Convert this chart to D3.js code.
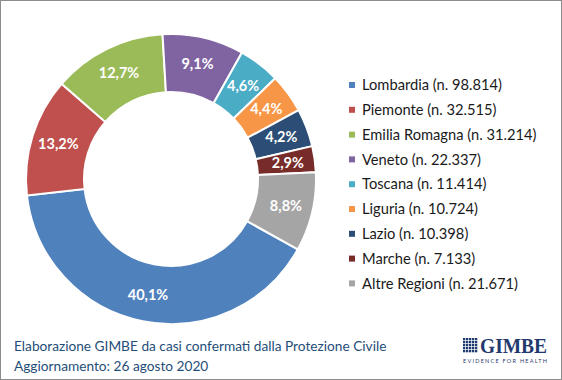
<!DOCTYPE html>
<html>
<head>
<meta charset="utf-8">
<script src="https://cdn.jsdelivr.net/npm/d3@7"></script>
<style>
	body { margin: 0; background: #fff; }
	svg { display: block; font-family: Lato, "Open Sans", sans-serif; }
</style>
</head>
<body>
<svg id="chart" width="562" height="380"></svg>
<script>
	// Data
	var regions = ['Lombardia', 'Piemonte', 'Emilia Romagna', 'Veneto', 'Toscana', 'Liguria', 'Lazio', 'Marche', 'Altre Regioni'];
	var cases = [98814, 32515, 31214, 22337, 11414, 10724, 10398, 7133, 21671];
	var colors = ['#4f81bd', '#c0504d', '#9bbb59', '#8064a2', '#4bacc6', '#f79646', '#2c4d75', '#772c2a', '#a5a5a5'];
	var footer = ['Elaborazione GIMBE da casi confermati dalla Protezione Civile', 'Aggiornamento: 26 agosto 2020'];

	var svg = d3.select('#chart'),
		width = 562,
		height = 380;

	// frame
	svg.append('rect')
		.attr('x', 0.5).attr('y', 0.5)
		.attr('width', width - 1).attr('height', height - 1)
		.attr('fill', '#fff')
		.attr('stroke', '#8c8c8c');

	var cx = 171, cy = 179,
		outerR = 145, innerR = 87;

	var total = d3.sum(cases);
	var startAngle = 119 * Math.PI / 180;

	var pie = d3.pie()
		.sort(null)
		.startAngle(startAngle)
		.endAngle(startAngle + 2 * Math.PI);

	var arc = d3.arc()
		.innerRadius(innerR)
		.outerRadius(outerR);

	// labels sit a touch further out than the centroid
	var labelArc = d3.arc()
		.innerRadius(innerR + 2)
		.outerRadius(outerR + 2);

	var data = pie(cases);

	var g = svg.append('g').attr('transform', 'translate(' + cx + ',' + cy + ')');

	g.selectAll('path.slice')
		.data(data)
		.enter().append('path')
		.attr('class', 'slice')
		.attr('d', arc)
		.attr('fill', function(d, i) { return colors[i]; })
		.attr('stroke', '#fff')
		.attr('stroke-width', 2);

	function pct(v) {
		return (v / total * 100).toFixed(1).replace('.', ',') + '%';
	}

	g.selectAll('text.pct')
		.data(data)
		.enter().append('text')
		.attr('class', 'pct')
		.attr('x', function(d) { return labelArc.centroid(d)[0]; })
		.attr('y', function(d) { return labelArc.centroid(d)[1]; })
		.attr('dy', '0.35em')
		.attr('text-anchor', 'middle')
		.attr('fill', '#fff')
		.attr('font-size', 14.5)
		.attr('font-weight', 'bold')
		.text(function(d) { return pct(d.data); });

	// Legend
	var legend = svg.append('g').attr('transform', 'translate(349,85)');
	var rowH = 24.8;

	var row = legend.selectAll('g.row')
		.data(regions)
		.enter().append('g')
		.attr('class', 'row')
		.attr('transform', function(d, i) { return 'translate(0,' + (i * rowH) + ')'; });

	row.append('rect')
		.attr('x', 0).attr('y', -3)
		.attr('width', 6).attr('height', 6)
		.attr('fill', function(d, i) { return colors[i]; });

	row.append('text')
		.attr('x', 13)
		.attr('dy', '0.35em')
		.attr('font-size', 14.7)
		.attr('fill', '#1a1a1a')
		.text(function(d, i) { return d + ' (n. ' + d3.format(',')(cases[i]).replace(/,/g, '.') + ')'; });

	// Footer
	svg.selectAll('text.footer')
		.data(footer)
		.enter().append('text')
		.attr('class', 'footer')
		.attr('x', 14)
		.attr('y', function(d, i) { return 346 + i * 20; })
		.attr('dy', '0.35em')
		.attr('font-size', 13.7)
		.attr('fill', '#1f4e79')
		.text(function(d) { return d; });

	// GIMBE logo
	var logo = svg.append('g').attr('transform', 'translate(463,338)');
	var cells = d3.range(25);
	logo.selectAll('rect.cell')
		.data(cells)
		.enter().append('rect')
		.attr('class', 'cell')
		.attr('x', function(d) { return (d % 5) * 3; })
		.attr('y', function(d) { return Math.floor(d / 5) * 3; })
		.attr('width', 2.3).attr('height', 2.3)
		.attr('fill', '#1f3a6e');
	logo.append('text')
		.attr('x', 17)
		.attr('y', 15)
		.attr('font-family', '"Liberation Serif", "DejaVu Serif", serif')
		.attr('font-size', 20)
		.attr('font-weight', 'bold')
		.attr('fill', '#1f3a6e')
		.attr('textLength', 67)
		.attr('lengthAdjust', 'spacingAndGlyphs')
		.text('GIMBE');
	logo.append('text')
		.attr('x', 0)
		.attr('y', 25)
		.attr('font-size', 5.5)
		.attr('fill', '#1f3a6e')
		.attr('textLength', 84)
		.text('EVIDENCE FOR HEALTH');
</script>
</body>
</html>
